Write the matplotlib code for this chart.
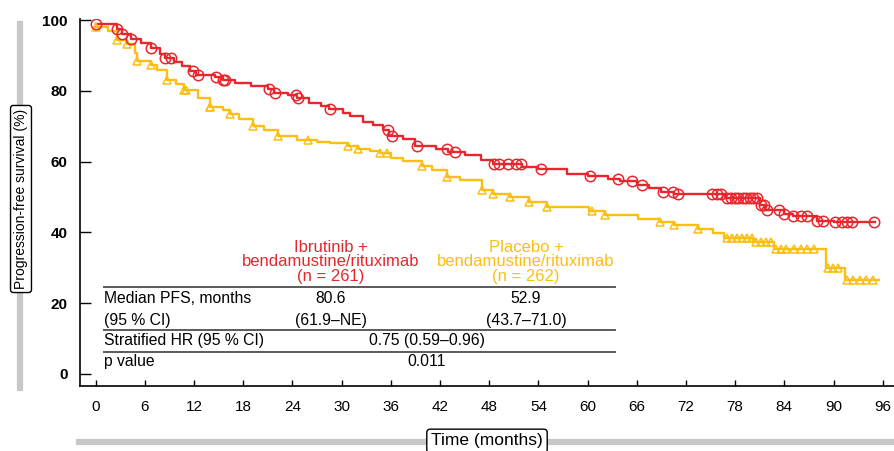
import numpy as np
import matplotlib
matplotlib.use("Agg")
import matplotlib.pyplot as plt
from matplotlib.lines import Line2D

plt.rcParams['font.family'] = ['Liberation Sans', 'DejaVu Sans']

RED = '#E8262D'
YEL = '#FDBE14'
GRAY = '#C8C8C8'

# Ibrutinib + BR: step times (months) and PFS (%) after each step
ibr_t = [0, 2.6, 3.2, 4.3, 5.5, 6.8, 7.8, 8.5, 9.5, 10.5, 11.5, 12.2, 14.5, 15.5, 17.0,
         19.0, 21.0, 21.8, 23.5, 24.5, 26.0, 27.5, 28.5, 30.2, 31.0, 32.6, 33.8, 35.0,
         35.8, 37.5, 39.0, 41.5, 43.0, 45.0, 47.0, 48.5, 52.0, 54.0, 57.5, 60.0, 62.5,
         64.0, 66.0, 67.5, 69.0, 70.5, 76.8, 81.0, 81.6, 84.0, 85.0, 88.0, 90.0]
ibr_s = [99.0, 97.5, 96.2, 94.8, 93.5, 92.0, 90.5, 89.4, 88.3, 87.0, 85.5, 84.6, 84.0,
         83.2, 82.3, 81.5, 80.5, 79.4, 78.8, 78.0, 76.5, 75.8, 74.9, 73.7, 72.8, 71.2,
         70.3, 69.0, 67.2, 66.3, 64.5, 63.5, 62.6, 62.0, 60.5, 59.2, 58.4, 57.8, 56.5,
         55.8, 55.0, 54.4, 53.5, 52.5, 51.5, 50.8, 49.6, 47.8, 46.2, 45.3, 44.7, 43.3,
         42.8]
ibr_end = 95.0
ibr_cens = [0.1, 2.6, 3.2, 4.3, 6.8, 8.5, 9.2, 11.9, 12.5, 14.7, 15.5, 15.8, 21.1, 21.9,
            24.4, 24.7, 28.6, 35.7, 36.2, 39.2, 42.8, 43.8, 48.6, 49.2, 50.3, 51.3, 51.9,
            54.3, 60.3, 63.7, 65.4, 66.6, 69.2, 70.4, 71.0, 75.2, 75.8, 76.3, 77.0, 77.5,
            78.0, 78.4, 78.9, 79.3, 79.8, 80.2, 80.7, 81.2, 81.5, 81.9, 83.4, 84.0, 85.0,
            86.0, 86.8, 88.0, 88.7, 90.2, 91.0, 91.6, 92.3, 94.9]

# Placebo + BR
pla_t = [0, 1.5, 2.6, 3.8, 4.8, 5.1, 6.7, 7.5, 8.7, 9.8, 10.8, 12.5, 13.9, 15.5, 16.4,
         17.5, 19.2, 20.5, 22.3, 24.5, 27.0, 28.6, 30.8, 32.0, 33.5, 34.7, 36.0, 37.5,
         39.8, 41.0, 42.8, 44.5, 47.1, 48.5, 50.5, 52.9, 55.0, 60.2, 62.1, 66.2, 68.8,
         70.6, 73.5, 75.3, 76.7, 80.2, 82.8, 89.1, 91.4]
pla_s = [98.2, 97.0, 94.5, 93.3, 90.7, 88.5, 87.4, 86.0, 83.2, 82.0, 80.3, 78.0, 75.5,
         74.5, 73.4, 72.0, 70.2, 69.0, 67.2, 66.2, 65.6, 65.2, 64.3, 63.6, 63.0, 62.5,
         61.0, 60.2, 58.8, 57.5, 55.6, 54.8, 52.0, 50.9, 50.1, 48.5, 47.1, 46.0, 45.0,
         43.7, 42.8, 42.1, 40.9, 39.9, 38.3, 37.2, 35.2, 29.8, 26.5]
pla_end = 95.6
pla_cens = [0.1, 2.6, 3.8, 5.1, 6.7, 8.7, 10.8, 11.0, 13.9, 14.0, 16.4, 19.2, 22.3, 25.9,
            30.8, 32.0, 34.7, 35.5, 39.8, 42.8, 47.1, 48.5, 50.5, 52.9, 55.0, 60.5, 62.1,
            68.8, 70.6, 73.5, 77.0, 77.6, 78.2, 78.8, 79.4, 80.0, 80.6, 81.2, 81.8, 82.4,
            83.0, 83.6, 84.2, 85.2, 86.0, 86.8, 87.6, 89.3, 89.9, 90.5, 91.6, 92.4, 93.2,
            94.0, 94.8]

fig = plt.figure(figsize=(8.95, 4.51), dpi=100)
ax = fig.add_axes([0.0894, 0.1448, 0.9106, 0.812])


def km(t, s, end, cens, color, marker, ms):
    tt = list(t) + [end]
    ss = list(s) + [s[-1]]
    ax.step(tt, ss, where='post', color=color, lw=1.7, zorder=3)
    idx = np.searchsorted(t, cens, side='right') - 1
    cy = np.array(s)[idx]
    ax.plot(cens, cy, ls='none', marker=marker, ms=ms, mfc='none', mec=color,
            mew=1.1, zorder=4)


km(pla_t, pla_s, pla_end, pla_cens, YEL, '^', 6)
km(ibr_t, ibr_s, ibr_end, ibr_cens, RED, 'o', 7.5)

ax.set_xlim(-1.91, 97.5)
ax.set_ylim(-3.37, 100.2)
ax.set_xticks(range(0, 97, 6))
ax.set_yticks([0, 20, 40, 60, 80, 100])
ax.tick_params(axis='y', direction='in', length=8, width=1, pad=9, labelsize=11)
ax.tick_params(axis='x', direction='in', length=4, width=1, pad=10, labelsize=11)
for lab in ax.get_yticklabels():
    lab.set_fontweight('bold')
for sp in ['top', 'right']:
    ax.spines[sp].set_visible(False)
ax.spines['left'].set_linewidth(1.2)
ax.spines['bottom'].set_linewidth(1.2)

# table
fs = 11.3
for y in [24.6, 12.4, 6.25]:
    ax.plot([1.0, 63.3], [y, y], color='#5a5a5a', lw=1.4, clip_on=False)
ax.text(28.7, 31.7, 'Ibrutinib +\nbendamustine/rituximab\n(n = 261)', color=RED,
        ha='center', va='center', fontsize=12, linespacing=0.95)
ax.text(52.5, 31.7, 'Placebo +\nbendamustine/rituximab\n(n = 262)', color=YEL,
        ha='center', va='center', fontsize=12, linespacing=0.95)
rows = [(21.2, 'Median PFS, months'), (15.2, '(95 % CI)'),
        (9.3, 'Stratified HR (95 % CI)'), (3.4, 'p value')]
for y, txt in rows:
    ax.text(1.0, y, txt, ha='left', va='center', fontsize=fs)
ax.text(28.7, 21.2, '80.6', ha='center', va='center', fontsize=fs)
ax.text(28.7, 15.2, '(61.9–NE)', ha='center', va='center', fontsize=fs)
ax.text(52.5, 21.2, '52.9', ha='center', va='center', fontsize=fs)
ax.text(52.5, 15.2, '(43.7–71.0)', ha='center', va='center', fontsize=fs)
ax.text(40.4, 9.3, '0.75 (0.59–0.96)', ha='center', va='center', fontsize=fs)
ax.text(40.4, 3.4, '0.011', ha='center', va='center', fontsize=fs)

# axis titles with gray bars
W, H = 895, 451
fig.add_artist(Line2D([20 / W, 20 / W], [1 - 24 / H, 1 - 388 / H], color=GRAY, lw=4.5))
fig.add_artist(Line2D([79 / W, 1.0], [1 - 441.7 / H, 1 - 441.7 / H], color=GRAY, lw=4.5))
box = dict(boxstyle='round,pad=0.25,rounding_size=0.2', fc='white', ec='black', lw=1)
fig.text(21 / W, 1 - 199 / H, 'Progression-free survival (%)', rotation=90,
         ha='center', va='center', fontsize=10, bbox=box)
fig.text(487 / W, 1 - 441 / H, 'Time (months)', ha='center', va='center',
         fontsize=12.5, bbox=box)

fig.savefig('out.png', dpi=100)
